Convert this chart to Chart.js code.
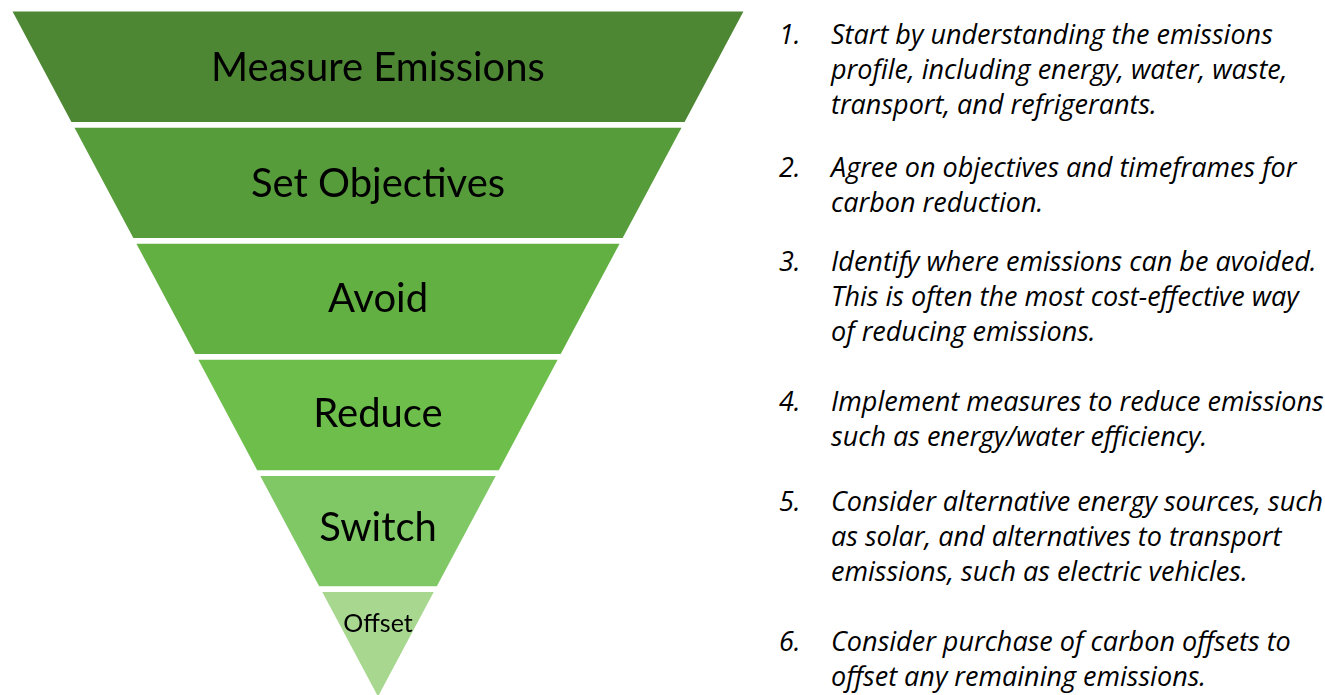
<!DOCTYPE html>
<html>
<head>
<meta charset="utf-8">
<script src="https://cdn.jsdelivr.net/npm/chart.js@4/dist/chart.umd.min.js"></script>
<style>
  html, body { margin: 0; padding: 0; background: #fff; overflow: hidden; width: 1325px; height: 695px; }
  #funnel { position: absolute; left: 0; top: 0; }
  .step { position: absolute; left: 779px; font-family: "Open Sans", sans-serif; font-style: italic;
          font-size: 27px; line-height: 35px; color: #000; white-space: nowrap; }
  .step .num { position: absolute; left: 0; top: 0; }
  .step .txt { position: absolute; left: 52px; top: 0; }
</style>
</head>
<body>
<canvas id="funnel" width="756" height="700"></canvas>
<div id="steps"></div>
<script>
// funnel stages, top to bottom
const levels = ['Measure Emissions', 'Set Objectives', 'Avoid', 'Reduce', 'Switch', 'Offset'];
// band edges in funnel units (0 = tip)
const bandTop = [5.9, 4.9, 3.9, 2.9, 1.9, 0.9];
const bandBottom = [4.95, 3.95, 2.95, 1.95, 0.95, 0];

const stepLines = [
    ['Start by understanding the emissions', 'profile, including energy, water, waste,', 'transport, and refrigerants.'],
    ['Agree on objectives and timeframes for', 'carbon reduction.'],
    ['Identify where emissions can be avoided.', 'This is often the most cost-effective way', 'of reducing emissions.'],
    ['Implement measures to reduce emissions', 'such as energy/water efficiency.'],
    ['Consider alternative energy sources, such', 'as solar, and alternatives to transport', 'emissions, such as electric vehicles.'],
    ['Consider purchase of carbon offsets to', 'offset any remaining emissions.']
];

// styling
const bandColors = ['#4e8734', '#579c3b', '#63b042', '#6dbe4a', '#80c865', '#a8d890'];
const labelFontSize = [40, 40, 40, 40, 40, 25];
const labelNudge = [0, 0, 0, 0, 0, -5];
const stepTops = [16, 149, 243, 383, 483, 623];
const slope = 0.534; // half width per unit of height

const halfWidth = y => y * slope;

const datasets = levels.map((name, i) => {
    const t = bandTop[i], b = bandBottom[i];
    return {
        label: name,
        data: [
            { x: -halfWidth(t), y: t },
            { x: halfWidth(t), y: t },
            { x: halfWidth(b), y: b },
            { x: -halfWidth(b), y: b },
            { x: -halfWidth(t), y: t }
        ],
        showLine: true,
        fill: 'shape',
        backgroundColor: bandColors[i],
        borderColor: bandColors[i],
        borderWidth: 0,
        pointRadius: 0,
        tension: 0
    };
});

// stage names at the centroid of each band
const stageLabels = {
    id: 'stageLabels',
    afterDatasetsDraw(chart) {
        const { ctx, scales: { x, y } } = chart;
        ctx.save();
        ctx.fillStyle = '#000';
        ctx.textAlign = 'center';
        ctx.textBaseline = 'alphabetic';
        levels.forEach((name, i) => {
            const t = bandTop[i], b = bandBottom[i];
            const a = halfWidth(t), c = halfWidth(b);
            const yc = b + (t - b) * (c + 2 * a) / (3 * (a + c));
            const size = labelFontSize[i];
            ctx.font = size + 'px Lato, sans-serif';
            ctx.fillText(name, x.getPixelForValue(0), y.getPixelForValue(yc) + size * 0.4 + labelNudge[i]);
        });
        ctx.restore();
    }
};

new Chart(document.getElementById('funnel'), {
    type: 'scatter',
    data: { datasets },
    options: {
        responsive: false,
        animation: false,
        devicePixelRatio: 1,
        layout: { padding: 0 },
        scales: {
            x: { type: 'linear', min: -3.259, max: 3.259, display: false },
            y: { type: 'linear', min: -0.03, max: 6.0, display: false }
        },
        plugins: { legend: { display: false }, tooltip: { enabled: false } }
    },
    plugins: [stageLabels]
});

// numbered list on the right
const stepsEl = document.getElementById('steps');
stepLines.forEach((lines, i) => {
    const d = document.createElement('div');
    d.className = 'step';
    d.style.top = stepTops[i] + 'px';
    d.innerHTML = '<span class="num">' + (i + 1) + '.</span><span class="txt">' + lines.join('<br>') + '</span>';
    stepsEl.appendChild(d);
});
</script>
</body>
</html>
